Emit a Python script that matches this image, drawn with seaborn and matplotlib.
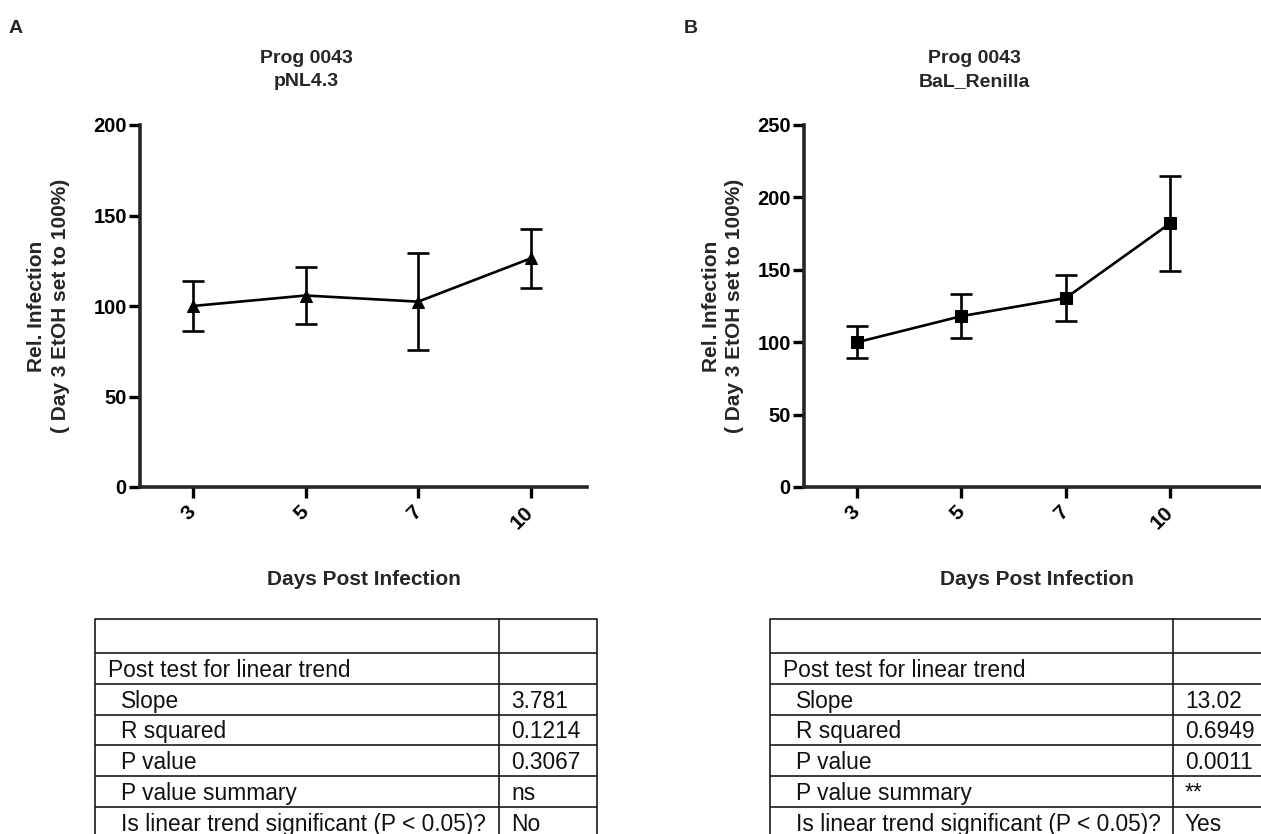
import numpy as np
import pandas as pd
import matplotlib
matplotlib.use("Agg")
import matplotlib.pyplot as plt
import seaborn as sns

# ---- data -------------------------------------------------------------
days = ["3", "5", "7", "10"]

nl43_mean = [100.0, 105.8, 102.4, 126.3]
nl43_err = [14.0, 15.5, 26.7, 16.5]

bal_mean = [100.0, 118.0, 130.5, 182.0]
bal_err = [11.0, 15.0, 15.7, 33.0]

row_labels = ["", "Post test for linear trend", "Slope", "R squared",
              "P value", "P value summary",
              "Is linear trend significant (P < 0.05)?"]
nl43_stats = ["", "", "3.781", "0.1214", "0.3067", "ns", "No"]
bal_stats = ["", "", "13.02", "0.6949", "0.0011", "**", "Yes"]

# ---- style ------------------------------------------------------------
sns.set_style("ticks")
plt.rcParams["font.family"] = ["Liberation Sans", "DejaVu Sans"]
plt.rcParams["font.weight"] = "bold"
plt.rcParams["axes.labelweight"] = "bold"

W, H = 1261, 834
fig = plt.figure(figsize=(W / 100, H / 100), dpi=100)
fig.patch.set_facecolor("white")


def px_axes(left, top, right, bottom):
    return fig.add_axes([left / W, 1 - bottom / H, (right - left) / W, (bottom - top) / H])


def draw_panel(ax, mean, err, marker, ymax, ystep, xlim, ylab_x):
    df = pd.DataFrame({"day": days, "value": mean})
    sns.lineplot(data=df, x="day", y="value", ax=ax, sort=False, color="black",
                 linewidth=1.9, marker=marker, markersize=8.5,
                 markeredgecolor="black", markerfacecolor="black")
    ax.errorbar(days, mean, yerr=err, fmt="none", ecolor="black",
                elinewidth=1.9, capsize=8, capthick=1.9)
    ax.set_xlim(*xlim)
    ax.set_ylim(0, ymax)
    ax.set_yticks(np.arange(0, ymax + 1, ystep))
    sns.despine(ax=ax)
    for side in ("left", "bottom"):
        ax.spines[side].set_linewidth(2.6)
    ax.tick_params(axis="both", direction="out", length=8, width=2.4,
                   colors="black")
    ax.tick_params(axis="y", pad=1.5, labelsize=14.5)
    ax.tick_params(axis="x", pad=8, labelsize=15)
    plt.setp(ax.get_xticklabels(), rotation=45, ha="right", va="center",
             rotation_mode="anchor", fontweight="bold")
    plt.setp(ax.get_yticklabels(), fontweight="bold")
    ax.set_xlabel("Days Post Infection", fontsize=15, fontweight="bold")
    ax.set_ylabel("Rel. Infection\n( Day 3 EtOH set to 100%)", fontsize=15,
                  fontweight="bold", linespacing=1.3)
    ax.xaxis.set_label_coords(0.5, -0.228)
    ax.yaxis.set_label_coords(ylab_x, 0.5)
    ax.set_facecolor("none")


axA = px_axes(140, 125, 587, 487)
draw_panel(axA, nl43_mean, nl43_err, "^", 200, 50, (-0.47, 3.5), -0.157)

axB = px_axes(804, 125, 1270, 487)
draw_panel(axB, bal_mean, bal_err, "s", 250, 50, (-0.51, 3.96), -0.128)

# ---- overlay for titles, panel letters and result tables ----------------
ov = fig.add_axes([0, 0, 1, 1], zorder=-1)
ov.set_xlim(0, W)
ov.set_ylim(H, 0)
ov.axis("off")

ov.text(9, 33, "A", fontsize=14, fontweight="bold", va="baseline", ha="left")
ov.text(684, 33, "B", fontsize=14, fontweight="bold", va="baseline", ha="left")

ov.text(306, 63, "Prog 0043", fontsize=14, fontweight="bold", ha="center", va="baseline")
ov.text(306, 86, "pNL4.3", fontsize=14, fontweight="bold", ha="center", va="baseline")
ov.text(974, 63, "Prog 0043", fontsize=14, fontweight="bold", ha="center", va="baseline")
ov.text(974, 86, "BaL_Renilla", fontsize=14, fontweight="bold", ha="center", va="baseline")

row_lines = [619, 653, 684, 715, 745, 776, 807, 838]


def draw_table(x0, xsplit, x1, values):
    lc = "#1a1a1a"
    for y in row_lines:
        ov.plot([x0, x1], [y, y], color=lc, lw=1.2, solid_capstyle="butt")
    for x in (x0, xsplit, x1):
        ov.plot([x, x], [row_lines[0], row_lines[-1]], color=lc, lw=1.2)
    for i, (lab, val) in enumerate(zip(row_labels, values)):
        base = row_lines[i + 1] - 7
        indent = 13 if i == 1 else 26
        if lab:
            ov.text(x0 + indent, base, lab, fontsize=16.4, fontweight="normal",
                    ha="left", va="baseline", color="#111111")
        if val:
            ov.text(xsplit + 12, base, val, fontsize=16.4, fontweight="normal",
                    ha="left", va="baseline", color="#111111")


draw_table(95, 499, 597, nl43_stats)
draw_table(770, 1173, 1275, bal_stats)

fig.savefig("out.png", dpi=100, facecolor="white")
